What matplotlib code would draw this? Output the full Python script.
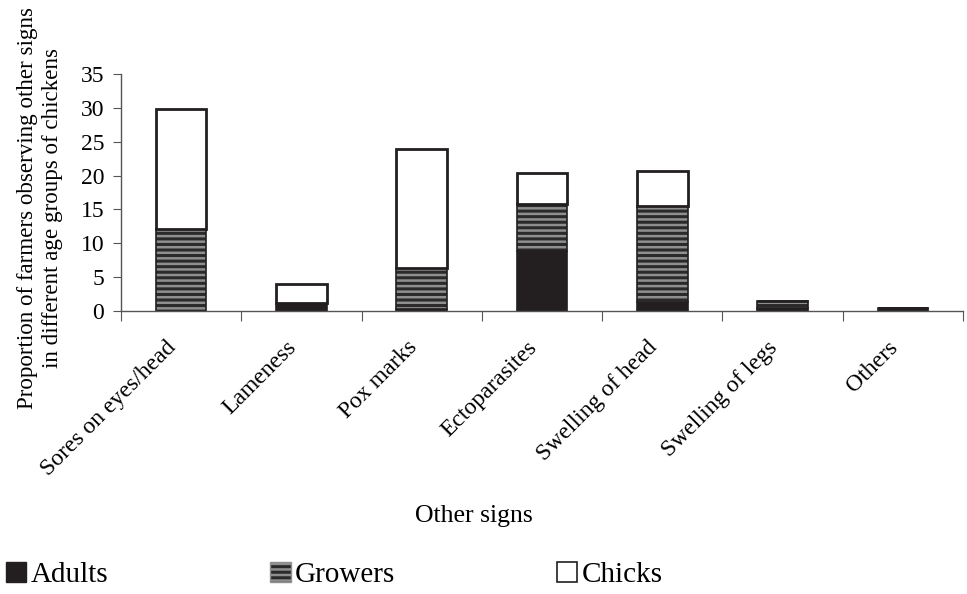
import matplotlib
matplotlib.use("Agg")
import matplotlib.pyplot as plt
import matplotlib.transforms as mtransforms
from matplotlib.patches import Patch
import numpy as np

categories = ["Sores on eyes/head", "Lameness", "Pox marks", "Ectoparasites",
              "Swelling of head", "Swelling of legs", "Others"]
adults = [0.0, 1.2, 0.3, 8.9, 1.3, 0.5, 0.4]
growers = [12.1, 0.0, 6.0, 6.9, 14.2, 1.0, 0.0]
chicks = [17.7, 2.8, 17.6, 4.6, 5.2, 0.0, 0.0]
yticks = [0, 5, 10, 15, 20, 25, 30, 35]

plt.rcParams['font.family'] = ['Liberation Serif', 'DejaVu Serif']
plt.rcParams['hatch.linewidth'] = 1.8

fig = plt.figure(figsize=(9.67, 5.94), dpi=100)
ax = fig.add_axes([121/967, 1-311/594, (963-121)/967, (311-74)/594])

x = np.arange(len(categories))
w = 0.42
a = np.array(adults); g = np.array(growers); c = np.array(chicks)
ax.bar(x, a, w, color='#231f20', edgecolor='#231f20', linewidth=1.2)
ax.bar(x, g, w, bottom=a, color='#2a2a2a', edgecolor='#8f8f8f', hatch='---', linewidth=0)
ax.bar(x, g, w, bottom=a, fill=False, edgecolor='#231f20', linewidth=1.2)
ax.bar(x, c, w, bottom=a + g, color='white', edgecolor='#231f20', linewidth=2)

ax.set_xlim(-0.5, len(categories) - 0.5)
ax.set_ylim(0, 35)
ax.set_yticks(yticks)
ax.set_yticklabels([str(t) for t in yticks], fontsize=17)
ax.set_xticks(np.arange(len(categories) + 1) - 0.5)
ax.set_xticklabels([])
ax.set_xticks(x, minor=True)
ax.set_xticklabels(categories, minor=True, rotation=45, ha='right',
                   rotation_mode='anchor', va='center', fontsize=17)
ax.tick_params(axis='x', which='minor', length=0, pad=24)
ax.tick_params(axis='x', which='major', length=7, color='#555555', direction='out')
ax.tick_params(axis='y', length=6, color='#555555', direction='out', pad=6)
shift = mtransforms.ScaledTranslation(-8/100, 0, fig.dpi_scale_trans)
for lab in ax.get_xticklabels(minor=True):
    lab.set_transform(lab.get_transform() + shift)
for s in ['top', 'right']:
    ax.spines[s].set_visible(False)
for s in ['left', 'bottom']:
    ax.spines[s].set_color('#555555')
    ax.spines[s].set_linewidth(1.0)

fig.text(474/967, 1-516/594, "Other signs", ha='center', va='center', fontsize=18.5)
fig.text(40/967, 1-208/594, "Proportion of farmers observing other signs\nin different age groups of chickens",
         rotation=90, ha='center', va='center', fontsize=16.6, linespacing=1.2)

handles = [Patch(facecolor='#231f20', edgecolor='#231f20'),
           Patch(facecolor='#2a2a2a', edgecolor='#8f8f8f', hatch='---'),
           Patch(facecolor='white', edgecolor='#231f20', linewidth=1.2)]
fig.legend(handles, ["Adults", "Growers", "Chicks"], loc='lower left',
           bbox_to_anchor=(0.0, 0.0), ncol=3, frameon=False, fontsize=21,
           handlelength=0.7, handleheight=0.7, handletextpad=0.15,
           columnspacing=5.55, borderaxespad=0.0, borderpad=0.2)

fig.savefig("out.png", dpi=100)
